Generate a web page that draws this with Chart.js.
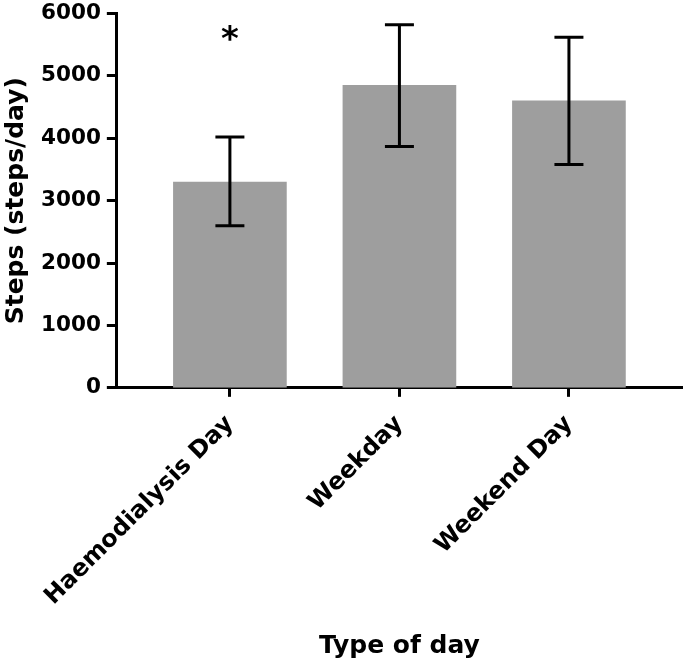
<!DOCTYPE html>
<html>
<head>
<meta charset="utf-8">
<script src="https://cdn.jsdelivr.net/npm/chart.js@4.4.1/dist/chart.umd.min.js"></script>
<style>
  html, body { margin: 0; padding: 0; background: #ffffff; }
  #wrap { width: 685px; height: 665px; }
</style>
</head>
<body>
<div id="wrap"><canvas id="stepsChart" width="685" height="665"></canvas></div>
<script>
// data
const categories = ['Haemodialysis Day', 'Weekday', 'Weekend Day'];
const meanSteps = [3300, 4850, 4600];
const errLow = [2600, 3870, 3580];
const errHigh = [4020, 5820, 5620];
const sigMarks = ['*', '', ''];
const sigLevel = [5600, 0, 0];
const yTicks = [0, 1000, 2000, 3000, 4000, 5000, 6000];

const FONT = "'DejaVu Sans', 'Liberation Sans', Arial, sans-serif";

//draws the error bars and the significance star on top of the bars
const errorBarPlugin = {
    id: 'errorBars',
    afterDatasetsDraw(chart)
    {
        const ctx = chart.ctx;
        const xs = chart.scales.x;
        const ys = chart.scales.y;
        ctx.save();
        ctx.strokeStyle = '#000000';
        ctx.lineWidth = 3;
        ctx.lineCap = 'butt';
        categories.forEach((c, i) => {
            const x = xs.getPixelForValue(i);
            const yLo = ys.getPixelForValue(errLow[i]);
            const yHi = ys.getPixelForValue(errHigh[i]);
            const cap = 14.5;
            ctx.beginPath();
            ctx.moveTo(x, yLo);
            ctx.lineTo(x, yHi);
            ctx.moveTo(x - cap, yLo);
            ctx.lineTo(x + cap, yLo);
            ctx.moveTo(x - cap, yHi);
            ctx.lineTo(x + cap, yHi);
            ctx.stroke();

            if (sigMarks[i])
            {
                ctx.fillStyle = '#000000';
                ctx.font = "bold 34px " + FONT;
                ctx.textAlign = 'center';
                ctx.textBaseline = 'middle';
                ctx.fillText(sigMarks[i], x, ys.getPixelForValue(sigLevel[i]) + 3);
            }
        });
        ctx.restore();
    }
};

Chart.defaults.font.family = FONT;
Chart.defaults.font.weight = 'bold';
Chart.defaults.color = '#000000';
Chart.defaults.animation = false;

const ctx = document.getElementById('stepsChart');
new Chart(ctx,
    {
        type: 'bar',
        data:
            {
                datasets: [
                    {
                        data: meanSteps.map((v, i) => ({ x: i, y: v })),
                        backgroundColor: '#9e9e9e',
                        borderWidth: 0,
                        barThickness: 113,
                    }
                ]
            },
        options:
            {
                responsive: false,
                layout: { padding: { left: 1, right: 3, top: 0, bottom: 4 } },
                plugins:
                    {
                        legend: { display: false },
                        tooltip: { enabled: false },
                    },
                scales:
                    {
                        x:
                            {
                                type: 'linear',
                                offset: false,
                                min: -0.667,
                                max: 2.667,
                                afterBuildTicks: (scale) => {
                                    scale.ticks = categories.map((c, i) => ({ value: i }));
                                },
                                grid:
                                    {
                                        offset: false,
                                        drawOnChartArea: false,
                                        tickLength: 9,
                                        tickWidth: 3,
                                        tickColor: '#000000',
                                    },
                                border: { width: 3, color: '#000000' },
                                ticks:
                                    {
                                        autoSkip: false,
                                        minRotation: 45,
                                        maxRotation: 45,
                                        padding: 13,
                                        font: { size: 24, weight: 'bold' },
                                        callback: (value) => categories[value],
                                    },
                                title:
                                    {
                                        display: true,
                                        text: 'Type of day',
                                        font: { size: 25, weight: 'bold' },
                                        padding: { top: 7, bottom: 0 },
                                    }
                            },
                        y:
                            {
                                min: 0,
                                max: 6000,
                                afterBuildTicks: (scale) => {
                                    scale.ticks = yTicks.map(v => ({ value: v }));
                                },
                                grid:
                                    {
                                        drawOnChartArea: false,
                                        tickLength: 10,
                                        tickWidth: 3,
                                        tickColor: '#000000',
                                    },
                                border: { width: 3, color: '#000000' },
                                ticks:
                                    {
                                        padding: 6,
                                        font: { size: 21.5, weight: 'bold', lineHeight: 0.7 },
                                        callback: (value) => String(value),
                                    },
                                title:
                                    {
                                        display: true,
                                        text: 'Steps (steps/day)',
                                        font: { size: 25, weight: 'bold' },
                                        padding: { top: 0, bottom: 4 },
                                    }
                            }
                    }
            },
        plugins: [errorBarPlugin]
    });
</script>
</body>
</html>
